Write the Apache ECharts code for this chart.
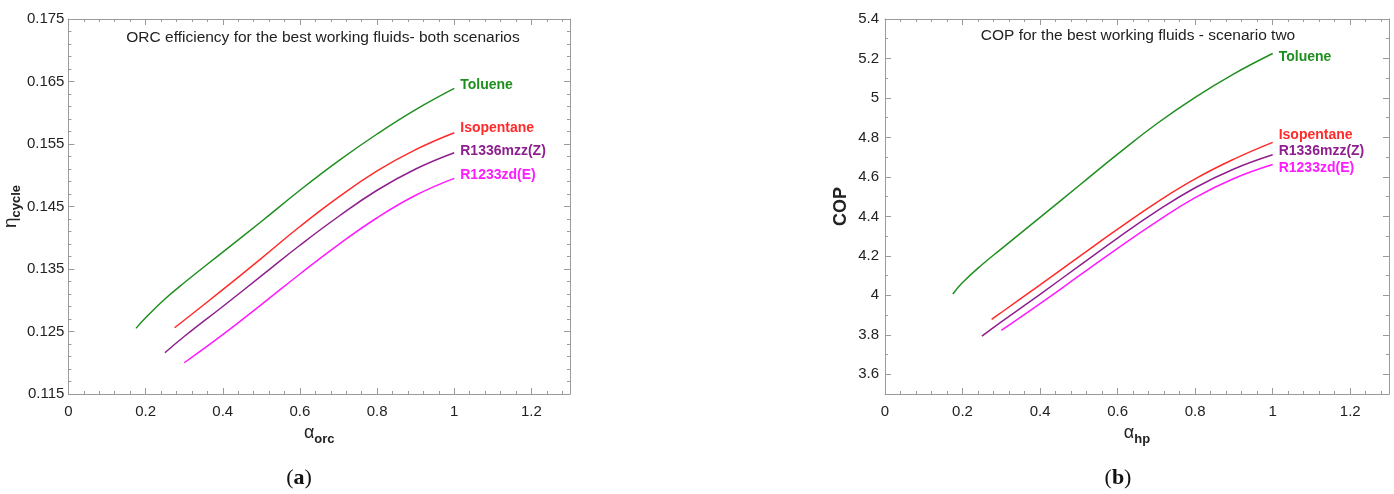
<!DOCTYPE html>
<html>
<head>
<meta charset="utf-8">
<script src="https://cdn.jsdelivr.net/npm/echarts@6/dist/echarts.min.js"></script>
<style>
html,body{margin:0;padding:0;background:#fff;}
#chart{width:1394px;height:494px;}
</style>
</head>
<body>
<div id="chart"></div>
<script>
// ---------- data ----------
const seriesNames = ['Toluene', 'Isopentane', 'R1336mzz(Z)', 'R1233zd(E)'];

// (a) ORC efficiency vs alpha_orc
const orcTolX   = [0.175, 0.2, 0.25, 0.3, 0.4, 0.5, 0.6, 0.7, 0.8, 0.9, 1.0];
const orcTolY   = [0.1255, 0.1272, 0.1302, 0.1328, 0.1377, 0.1426, 0.1476, 0.1523, 0.1566, 0.1605, 0.1639];
const orcIsoX   = [0.275, 0.3, 0.4, 0.5, 0.6, 0.7, 0.8, 0.9, 1.0];
const orcIsoY   = [0.1256, 0.1268, 0.1317, 0.1367, 0.1418, 0.1465, 0.1507, 0.1541, 0.1568];
const orcR1336X = [0.25, 0.3, 0.4, 0.5, 0.6, 0.7, 0.8, 0.9, 1.0];
const orcR1336Y = [0.1216, 0.1242, 0.129, 0.1339, 0.1388, 0.1434, 0.1476, 0.151, 0.1536];
const orcR1233X = [0.3, 0.4, 0.5, 0.6, 0.7, 0.8, 0.9, 1.0];
const orcR1233Y = [0.12, 0.1245, 0.1293, 0.1342, 0.1389, 0.1432, 0.1468, 0.1495];

// (b) COP vs alpha_hp
const hpTolX   = [0.175, 0.2, 0.25, 0.3, 0.4, 0.5, 0.6, 0.7, 0.8, 0.9, 1.0];
const hpTolY   = [4.007, 4.065, 4.155, 4.235, 4.395, 4.555, 4.715, 4.868, 5.003, 5.122, 5.225];
const hpIsoX   = [0.275, 0.3, 0.4, 0.5, 0.6, 0.7, 0.8, 0.9, 1.0];
const hpIsoY   = [3.878, 3.913, 4.053, 4.195, 4.335, 4.47, 4.59, 4.69, 4.775];
const hpR1336X = [0.25, 0.3, 0.4, 0.5, 0.6, 0.7, 0.8, 0.9, 1.0];
const hpR1336Y = [3.793, 3.865, 4.005, 4.148, 4.29, 4.425, 4.545, 4.64, 4.712];
const hpR1233X = [0.3, 0.4, 0.5, 0.6, 0.7, 0.8, 0.9, 1.0];
const hpR1233Y = [3.822, 3.958, 4.098, 4.238, 4.372, 4.495, 4.592, 4.663];

// tick labels
const hpMajorTicks = [3.6, 3.8, 4.0, 4.2, 4.4, 4.6, 4.8, 5.0, 5.2, 5.4];

const titleA = 'ORC efficiency for the best working fluids- both scenarios';
const titleB = 'COP for the best working fluids - scenario two';

// ---------- styling ----------
const FONT = '"Liberation Sans", Arial, sans-serif';
const colors = ['#1f8f1f', '#ff2a2a', '#8e1f8e', '#ff1aff'];
const axisGrey = '#9a9a9a';
const labelColor = '#222';

function pairs(xs, ys) { return xs.map((x, i) => [x, ys[i]]); }

function xAx(grid, pos, showLabel, name) {
  return {
    type: 'value', gridIndex: grid, position: pos, min: 0, max: 1.3, interval: 0.2,
    axisLine: { show: true, onZero: false, lineStyle: { color: axisGrey, width: 1 } },
    axisTick: { show: true, inside: true, length: 6, lineStyle: { color: axisGrey } },
    minorTick: { show: true, splitNumber: 5, length: 3, lineStyle: { color: axisGrey } },
    splitLine: { show: false },
    axisLabel: { show: showLabel, color: labelColor, fontSize: 15, fontFamily: FONT, margin: 10,
      showMaxLabel: false, formatter: v => String(+v.toFixed(2)) },
    name: name || '', nameLocation: 'middle', nameGap: 28,
    nameTextStyle: {
      rich: {
        g: { fontSize: 18, fontFamily: FONT, color: labelColor, lineHeight: 22, verticalAlign: 'top' },
        s: { fontSize: 13, fontFamily: FONT, fontWeight: 'bold', color: labelColor, lineHeight: 22, verticalAlign: 'bottom', padding: [8, 0, 0, 0] }
      }
    }
  };
}

const yLeftMain = {
  type: 'value', gridIndex: 0, position: 'left', min: 0.115, max: 0.175, interval: 0.01,
  axisLine: { show: true, onZero: false, lineStyle: { color: axisGrey } },
  axisTick: { show: true, inside: true, length: 6, lineStyle: { color: axisGrey } },
  minorTick: { show: true, splitNumber: 5, length: 3, lineStyle: { color: axisGrey } },
  splitLine: { show: false },
  axisLabel: { color: labelColor, fontSize: 15, fontFamily: FONT, margin: 4, formatter: v => v.toFixed(3) },
  name: '{g|η}{s|cycle}', nameLocation: 'middle', nameRotate: 90, nameGap: 42,
  nameTextStyle: {
    rich: {
      g: { fontSize: 19, fontFamily: FONT, color: labelColor, lineHeight: 22, verticalAlign: 'top' },
      s: { fontSize: 13, fontFamily: FONT, fontWeight: 'bold', color: labelColor, lineHeight: 22, verticalAlign: 'bottom', padding: [7, 0, 0, 0] }
    }
  }
};
const yLeftMirror = Object.assign({}, yLeftMain, {
  position: 'right', axisLabel: { show: false }, name: ''
});

function yHp(pos, withLabels, major) {
  const ax = {
    type: 'value', gridIndex: 1, position: pos, min: 3.5, max: 5.4, interval: 0.1,
    axisLine: { show: !major, onZero: false, lineStyle: { color: axisGrey } },
    axisTick: { show: true, inside: true, length: major ? 6 : 3, lineStyle: { color: axisGrey } },
    splitLine: { show: false },
    axisLabel: { show: false }
  };
  if (major) {
    ax.axisTick.customValues = hpMajorTicks;
  }
  if (withLabels) {
    ax.axisLabel = { show: true, color: labelColor, fontSize: 15, fontFamily: FONT, margin: 6,
      customValues: hpMajorTicks, formatter: v => String(+v.toFixed(1)) };
    ax.name = 'COP';
    ax.nameLocation = 'middle';
    ax.nameRotate = 90;
    ax.nameGap = 35;
    ax.nameTextStyle = { fontSize: 18, fontWeight: 'bold', fontFamily: FONT, color: labelColor };
  }
  return ax;
}

const orcData = [pairs(orcTolX, orcTolY), pairs(orcIsoX, orcIsoY), pairs(orcR1336X, orcR1336Y), pairs(orcR1233X, orcR1233Y)];
const hpData  = [pairs(hpTolX, hpTolY), pairs(hpIsoX, hpIsoY), pairs(hpR1336X, hpR1336Y), pairs(hpR1233X, hpR1233Y)];
const orcLabelOffsets = [[0, -3.5], [0, -4.5], [0, -1.5], [0, -3]];
const hpLabelOffsets  = [[0, 4], [0, -7.5], [0, -4], [0, 4]];

function mkSeries(data, xi, yi, offsets) {
  return data.map((d, i) => ({
    type: 'line', name: seriesNames[i], data: d, xAxisIndex: xi, yAxisIndex: yi,
    showSymbol: false, symbol: 'none', smooth: 0.45, silent: true,
    lineStyle: { color: colors[i], width: 1.5 },
    itemStyle: { color: colors[i] },
    endLabel: { show: true, formatter: seriesNames[i], color: colors[i], fontWeight: 'bold',
      fontSize: 14, fontFamily: FONT, distance: 6, offset: offsets[i] }
  }));
}

const chart = echarts.init(document.getElementById('chart'), null, { renderer: 'canvas' });
chart.setOption({
  animation: false,
  backgroundColor: '#ffffff',
  grid: [
    { left: 67, right: 824, top: 19, bottom: 100, containLabel: false },
    { left: 885, right: 5, top: 19, bottom: 100, containLabel: false }
  ],
  xAxis: [
    xAx(0, 'bottom', true, '{g|α}{s|orc}'),
    xAx(0, 'top', false),
    xAx(1, 'bottom', true, '{g|α}{s|hp}'),
    xAx(1, 'top', false)
  ],
  yAxis: [
    yLeftMain,
    yLeftMirror,
    yHp('left', true, false),
    yHp('left', false, true),
    yHp('right', false, false),
    yHp('right', false, true)
  ],
  series: mkSeries(orcData, 0, 0, orcLabelOffsets).concat(mkSeries(hpData, 2, 2, hpLabelOffsets)),
  graphic: [
    { type: 'text', x: 323, y: 38, silent: true,
      style: { text: titleA, font: '15.5px ' + FONT, fill: '#222', align: 'center', verticalAlign: 'middle' } },
    { type: 'text', x: 1138, y: 36, silent: true,
      style: { text: titleB, font: '15.5px ' + FONT, fill: '#222', align: 'center', verticalAlign: 'middle' } },
    { type: 'text', x: 299, y: 478, silent: true,
      style: { text: '({b|a})', font: '22px "Liberation Serif", "DejaVu Serif", serif', fill: '#111',
        align: 'center', verticalAlign: 'middle',
        rich: { b: { fontWeight: 'bold', fontSize: 22, fontFamily: '"Liberation Serif", serif', fill: '#111' } } } },
    { type: 'text', x: 1118, y: 478, silent: true,
      style: { text: '({b|b})', font: '22px "Liberation Serif", "DejaVu Serif", serif', fill: '#111',
        align: 'center', verticalAlign: 'middle',
        rich: { b: { fontWeight: 'bold', fontSize: 22, fontFamily: '"Liberation Serif", serif', fill: '#111' } } } }
  ]
});
</script>
</body>
</html>
